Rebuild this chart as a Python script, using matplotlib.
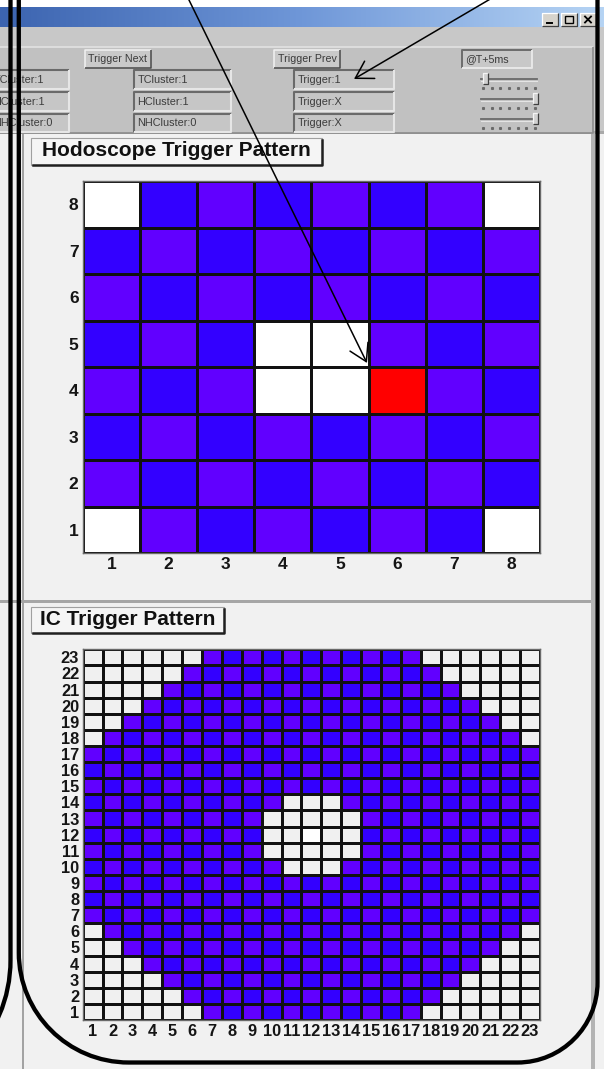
import numpy as np
import matplotlib
matplotlib.use('Agg')
import matplotlib.pyplot as plt
from matplotlib.colors import ListedColormap, BoundaryNorm, LinearSegmentedColormap
from matplotlib.patches import Rectangle, PathPatch
from matplotlib.path import Path

W, H = 604, 1069

# Hodoscope bins, top row (8) first.
# '.' empty bin, 'B' blue, 'P' purple, 'R' red (hit)
hodo_rows = [
    '.BPBPBP.',
    'BPBPBPBP',
    'PBPBPBPB',
    'BPB..PBP',
    'PBP..RPB',
    'BPBPBPBP',
    'PBPBPBPB',
    '.PBPBPB.',
]

# IC crystals, top row (23) first. 'W' is the white centre bin
ic_rows = [
    '......PBPBPBPBPBP......',
    '.....PBPBPBPBPBPBP.....',
    '....PBPBPBPBPBPBPBP....',
    '...PBPBPBPBPBPBPBPBP...',
    '..PBPBPBPBPBPBPBPBPBP..',
    '.PBPBPBPBPBPBPBPBPBPBP.',
    'PBPBPBPBPBPBPBPBPBPBPBP',
    'BPBPBPBPBPBPBPBPBPBPBPB',
    'PBPBPBPBPBPBPBPBPBPBPBP',
    'BPBPBPBPBP...PBPBPBPBPB',
    'PBPBPBPBP.....PBPBPBPBP',
    'BPBPBPBPB..W..BPBPBPBPB',
    'PBPBPBPBP.....PBPBPBPBP',
    'BPBPBPBPBP...PBPBPBPBPB',
    'PBPBPBPBPBPBPBPBPBPBPBP',
    'BPBPBPBPBPBPBPBPBPBPBPB',
    'PBPBPBPBPBPBPBPBPBPBPBP',
    '.PBPBPBPBPBPBPBPBPBPBP.',
    '..PBPBPBPBPBPBPBPBPBP..',
    '...PBPBPBPBPBPBPBPBP...',
    '....PBPBPBPBPBPBPBP....',
    '.....PBPBPBPBPBPBP.....',
    '......PBPBPBPBPBP......',
]

hodo_ticks = list(range(1, 9))
ic_ticks = list(range(1, 24))

panel_titles = ['Hodoscope Trigger Pattern', 'IC Trigger Pattern']
button_labels = ['Trigger Next', 'Trigger Prev']
field_labels = [
    ['TCluster:1', 'HCluster:1', 'NHCluster:0'],
    ['TCluster:1', 'HCluster:1', 'NHCluster:0'],
    ['Trigger:1', 'Trigger:X', 'Trigger:X'],
]
time_label = '@T+5ms'
slider_knobs = [0.08, 0.98, 0.98]   # knob position along each slider

BLUE, PURPLE, RED = '#3300ff', '#6100ff', '#ff0000'
CANVAS = '#f1f1f1'
FONT = ['Liberation Sans', 'DejaVu Sans']


def px_axes(fig, x0, y0, x1, y1, **kw):
    """Axes placed by pixel box (y measured from the top)."""
    return fig.add_axes([x0 / W, 1 - y1 / H, (x1 - x0) / W, (y1 - y0) / H], **kw)


def bevel(ax, x0, y0, x1, y1, face, hi, lo, lw=1.0, z=2):
    """Windows style 3D box: hi on top/left, lo on bottom/right."""
    ax.add_patch(Rectangle((x0, y0), x1 - x0, y1 - y0, facecolor=face,
                           edgecolor='none', zorder=z))
    ax.plot([x0, x0, x1], [y1, y0, y0], color=hi, lw=lw, zorder=z + 0.1,
            solid_capstyle='butt')
    ax.plot([x0, x1, x1], [y1, y1, y0], color=lo, lw=lw, zorder=z + 0.1,
            solid_capstyle='butt')


def title_box(ax, x0, y0, x1, y1, baseline, text):
    ax.add_patch(Rectangle((x0, y0), x1 - x0, y1 - y0, facecolor='#f5f5f5',
                           edgecolor='#a0a0a0', lw=0.8, zorder=3))
    ax.plot([x0 + 2, x1, x1], [y1, y1, y0 + 2], color='#202020', lw=1.8, zorder=3.2)
    ax.text((x0 + x1) / 2, baseline, text, fontsize=15, fontweight='bold',
            family=FONT, ha='center', va='baseline', color='#111111', zorder=4)


def draw_pattern(ax, rows, empty_color, ticks, fontsize, lw, ypad, xpad):
    """Draw a trigger pattern with pcolormesh from the row strings."""
    codes = {'.': 0, 'B': 1, 'P': 2, 'R': 3, 'W': 4}
    z = np.array([[codes[ch] for ch in row] for row in rows[::-1]])
    n = z.shape[0]
    edges = np.arange(n + 1) + 0.5

    # empty bins: light cells with grey borders
    blank = np.ma.masked_where((z != 0) & (z != 4), z)
    ax.pcolormesh(edges, edges, blank, cmap=ListedColormap([empty_color, '#ffffff']),
                  norm=BoundaryNorm([-0.5, 2, 5], 2), edgecolors='#858585', linewidth=lw)
    # filled bins: black borders
    filled = np.ma.masked_where((z == 0) | (z == 4), z)
    ax.pcolormesh(edges, edges, filled, cmap=ListedColormap([BLUE, PURPLE, RED]),
                  norm=BoundaryNorm([0.5, 1.5, 2.5, 3.5], 3), edgecolors='#111111',
                  linewidth=lw)

    ax.set_xlim(0.5, n + 0.5)
    ax.set_ylim(0.5, n + 0.5)
    ax.set_xticks(ticks)
    ax.set_yticks(ticks)
    ax.set_xticklabels([str(t) for t in ticks])
    ax.set_yticklabels([str(t) for t in ticks])
    ax.tick_params(axis='x', length=0, pad=xpad)
    ax.tick_params(axis='y', length=0, pad=ypad)
    for lab in ax.get_xticklabels() + ax.get_yticklabels():
        lab.set_fontsize(fontsize)
        lab.set_fontweight('bold')
        lab.set_family(FONT)
        lab.set_color('#151515')
    for sp in ax.spines.values():
        sp.set_color('#6a6a6a')
        sp.set_linewidth(1.0)


fig = plt.figure(figsize=(W / 100, H / 100), dpi=100)
fig.patch.set_facecolor(CANVAS)
bg = fig.add_axes([0, 0, 1, 1])
bg.axis('off')

# canvas background
bg.add_patch(Rectangle((0, 0), W, H, facecolor=CANVAS, edgecolor='none', zorder=0))

# white strip and title bar
bg.add_patch(Rectangle((0, 0), W, 7, facecolor='#ffffff', edgecolor='none', zorder=1))
grad = LinearSegmentedColormap.from_list('bar', ['#3c64b0', '#6f97d8', '#b6d4f4'])
bg.imshow(np.linspace(0, 1, 256)[None, :], extent=[0, W, 27, 7], cmap=grad,
          aspect='auto', zorder=1)

# window buttons
for i, x0 in enumerate([542, 561, 580]):
    bevel(bg, x0, 13, x0 + 16, 26, '#d6d3cc', '#ffffff', '#404040', lw=0.9, z=2)
    if i == 0:
        bg.plot([x0 + 5, x0 + 10], [22.5, 22.5], color='black', lw=1.4, zorder=3)
    elif i == 1:
        bg.add_patch(Rectangle((x0 + 4, 16), 8, 7, facecolor='none', edgecolor='black',
                               lw=1.0, zorder=3))
    else:
        bg.plot([x0 + 5, x0 + 11], [16.5, 22.5], color='black', lw=1.3, zorder=3)
        bg.plot([x0 + 5, x0 + 11], [22.5, 16.5], color='black', lw=1.3, zorder=3)

# toolbar
bg.add_patch(Rectangle((0, 27), W, 106, facecolor='#c8c8c8', edgecolor='none', zorder=1))
bevel(bg, -3, 47, 593, 133, '#c1c1c1', '#e2e2e2', '#8c8c8c', lw=1.2, z=1.5)

for label, x0 in zip(button_labels, [85, 274]):
    bevel(bg, x0, 50, x0 + 66, 68, '#c9c9c9', '#f2f2f2', '#4a4a4a', lw=1.1, z=2)
    bg.text(x0 + 33, 59.5, label, fontsize=7.7, family=FONT, color='#3a3a3a',
            ha='center', va='center', zorder=3)

bevel(bg, 462, 50, 532, 68, '#c8c8c8', '#6c6c6c', '#e8e8e8', lw=1.4, z=2)
bg.text(465, 59.5, time_label, fontsize=7.7, family=FONT, color='#3a3a3a',
        ha='left', va='center', zorder=3)

field_rows = [(70, 89), (92, 111), (114, 132)]
for col, (x0, x1) in enumerate([(-10, 69), (134, 231), (294, 394)]):
    for r, (y0, y1) in enumerate(field_rows):
        bevel(bg, x0, y0, x1, y1, '#c6c6c6', '#6a6a6a', '#e6e6e6', lw=1.5, z=2)
        bg.text(x0 + 3.5, (y0 + y1) / 2 + 0.5, field_labels[col][r], fontsize=7.8,
                family=FONT, color='#3c3c3c', ha='left', va='center', zorder=3)

# sliders
for yy, pos in zip([79, 99, 119], slider_knobs):
    bg.plot([481, 537], [yy, yy], color='#6a6a6a', lw=1.3, zorder=2)
    bg.plot([481, 537], [yy + 1.5, yy + 1.5], color='#e4e4e4', lw=0.8, zorder=2)
    kx = 481 + pos * 56
    bevel(bg, kx - 2.5, yy - 6, kx + 2.5, yy + 5, '#d0d0d0', '#f4f4f4', '#404040',
          lw=0.9, z=3)
    bg.plot(np.linspace(483, 535, 7), np.full(7, yy + 9), ls='none', marker='s',
            ms=1.2, color='#6a6a6a', zorder=2)

# canvas frames
bg.add_patch(Rectangle((0, 131), W, 3, facecolor='#a9a9a9', edgecolor='none', zorder=1))
bg.add_patch(Rectangle((0, 600), 593, 3, facecolor='#a6a6a6', edgecolor='none', zorder=1))
bg.add_patch(Rectangle((21.5, 133), 2.5, H - 133, facecolor='#a3a3a3', edgecolor='none', zorder=1))
bg.add_patch(Rectangle((591, 133), 4, H - 133, facecolor='#b3b3b3', edgecolor='none', zorder=1))

title_box(bg, 31, 138, 322, 165, 156.5, panel_titles[0])
title_box(bg, 31, 607, 224, 633, 625, panel_titles[1])

bg.set_xlim(0, W)
bg.set_ylim(H, 0)

# the two trigger patterns
ax_h = px_axes(fig, 82.7, 181, 540, 553.3)
draw_pattern(ax_h, hodo_rows, '#ffffff', hodo_ticks, 12.5, 1.0, ypad=3, xpad=3)

ax_ic = px_axes(fig, 82.7, 649.3, 540, 1020)
draw_pattern(ax_ic, ic_rows, '#f0f0f0', ic_ticks, 11.8, 0.9, ypad=2.5, xpad=3)

# annotation overlay: frames and arrows
top = fig.add_axes([0, 0, 1, 1], zorder=10)
top.set_xlim(0, W)
top.set_ylim(H, 0)
top.axis('off')
top.patch.set_alpha(0)

k = 0.5523
# left frame (mostly outside the picture)
r1, xl, yc = 140, 10.5, 960
p1 = Path([(xl, -20), (xl, yc), (xl, yc + k * r1), (xl - r1 + k * r1, yc + r1),
           (xl - r1, yc + r1)],
          [Path.MOVETO, Path.LINETO, Path.CURVE4, Path.CURVE4, Path.CURVE4])
top.add_patch(PathPatch(p1, facecolor='none', edgecolor='black', lw=3.1))

# big rounded frame around the canvases
x0, x1, yb, ra, rb = 18.8, 597.5, 1062.5, 110, 80
p2 = Path([(x0, -20), (x0, yb - ra), (x0, yb - ra + k * ra), (x0 + ra - k * ra, yb),
           (x0 + ra, yb), (x1 - rb, yb), (x1 - rb + k * rb, yb), (x1, yb - rb + k * rb),
           (x1, yb - rb), (x1, -20)],
          [Path.MOVETO, Path.LINETO, Path.CURVE4, Path.CURVE4, Path.CURVE4,
           Path.LINETO, Path.CURVE4, Path.CURVE4, Path.CURVE4, Path.LINETO])
top.add_patch(PathPatch(p2, facecolor='none', edgecolor='black', lw=3.1))

arrow = dict(arrowstyle='->,head_length=0.6,head_width=0.36', lw=1.1, color='black',
             shrinkA=0, shrinkB=0, mutation_scale=20)
top.annotate('', xy=(367, 363), xytext=(188, -2), arrowprops=arrow,
             annotation_clip=False)
top.annotate('', xy=(354, 79), xytext=(492, -2), arrowprops=arrow,
             annotation_clip=False)

fig.savefig('out.png', dpi=100, facecolor=fig.get_facecolor())
